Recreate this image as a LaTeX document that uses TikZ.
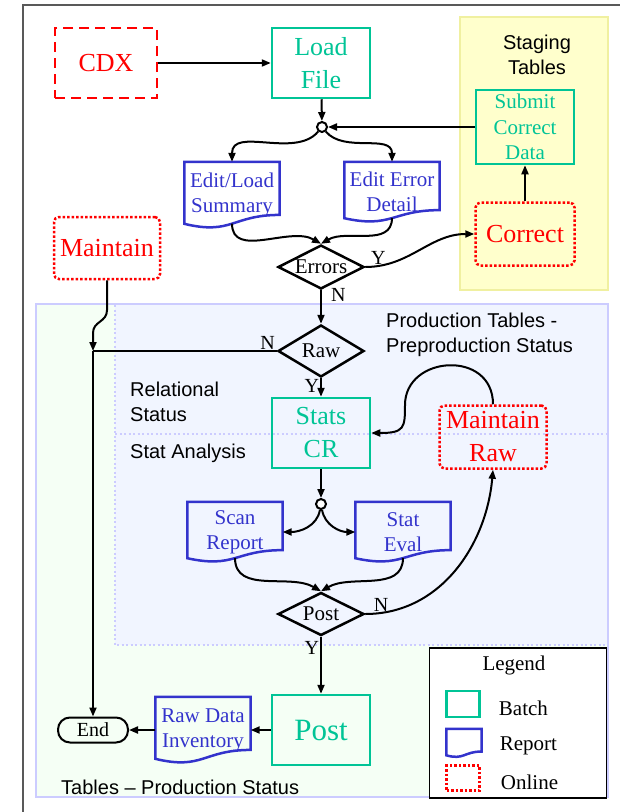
\documentclass[tikz,border=0pt]{standalone}
\usepackage{fontspec}
\setmainfont{Liberation Serif}
\setsansfont{Liberation Sans}
\usepackage{tikz}
\usetikzlibrary{positioning}
\usetikzlibrary{shapes.geometric}
\usetikzlibrary{calc}
\usetikzlibrary{arrows.meta}

\definecolor{batchgreen}{RGB}{0,196,150}
\definecolor{reportblue}{RGB}{51,51,204}
\definecolor{stagefill}{RGB}{255,255,204}
\definecolor{stageline}{RGB}{240,240,160}
\definecolor{prodfill}{RGB}{245,255,245}
\definecolor{preprodfill}{RGB}{241,245,255}
\definecolor{regionline}{RGB}{204,204,255}

\tikzset{
	batch/.style={draw=batchgreen, text=batchgreen, line width=2.5pt, minimum width=98pt, minimum height=70pt, align=center, inner sep=0pt, font=\fontsize{26}{33}\selectfont},
	online/.style={draw=red, text=red, line width=2.5pt, dash pattern=on 2.5pt off 2pt, rounded corners=5pt, align=center, inner sep=0pt, font=\fontsize{26}{33}\selectfont},
	external/.style={draw=red, text=red, line width=2.5pt, dash pattern=on 10pt off 6pt, align=center, inner sep=0pt, font=\fontsize{26}{33}\selectfont},
	report/.style={text=reportblue, minimum width=95pt, align=center, inner sep=0pt, font=\fontsize{21}{25}\selectfont},
	reportline/.style={draw=reportblue, line width=2.5pt},
	decision/.style={diamond, draw, line width=2.5pt, aspect=2, inner sep=-2pt, minimum width=86pt, font=\fontsize{21}{24}\selectfont},
	junction/.style={circle, draw, fill=white, line width=2pt, inner sep=0pt, minimum size=10pt},
	flow/.style={line width=2pt, -{Triangle[length=9pt,width=7pt]}},
	yn/.style={font=\fontsize{20}{22}\selectfont, inner sep=1pt},
	region/.style={font=\sffamily\fontsize{20}{25}\selectfont, align=left, inner sep=0pt},
	legendtext/.style={font=\fontsize{21}{25}\selectfont, inner sep=0pt},
}

\begin{document}
\begin{tikzpicture}[x=1pt, y=-1pt]
	\useasboundingbox (0,0) rectangle (620,812);
	
	% table areas
	\fill[stagefill, draw=stageline, line width=2pt] (460,17) rectangle (608,290);
	\filldraw[fill=prodfill, draw=regionline, line width=2.5pt] (36,304) rectangle (608,797);
	\fill[preprodfill] (115,305) rectangle (607,645);
	\draw[regionline, line width=2pt, dash pattern=on 2pt off 2.5pt] (115,305) -- (115,645) -- (607,645);
	\draw[regionline, line width=2pt, dash pattern=on 2pt off 2.5pt] (115,434) -- (607,434);
	\draw[black!65, line width=1.5pt] (23,812) -- (23,5) -- (620,5);
	
	\node at (537,55) [region, align=center] (staginglbl) {Staging\\Tables};
	\node at (386,335) [region, anchor=west] (preprodlbl) {Production Tables -\\Preproduction Status};
	\node at (130,402) [region, anchor=west] (relatlbl) {Relational\\Status};
	\node at (130,453) [region, anchor=west] (statlbl) {Stat Analysis};
	\node at (61,787) [region, anchor=west] (prodlbl) {Tables – Production Status};
	
	% loading
	\node at (106,63) [external, minimum width=102pt, minimum height=70pt] (cdx) {CDX};
	\node at (321,63) [batch] (load) {Load\\File};
	\node at (322,127) [junction] (fork1) {};
	\node at (525,127) [batch, minimum height=74pt, font=\fontsize{21}{25.5}\selectfont] (submit) {Submit\\Correct\\Data};
	\node at (525,234) [online, minimum width=99pt, minimum height=63pt] (correct) {Correct};
	\node at (232,195) [report, minimum height=66pt] (elsum) {Edit/Load\\Summary};
	\node at (392,192) [report, minimum height=60pt] (errdet) {Edit Error\\Detail};
	\node at (321,267) [decision, minimum height=44pt] (errors) {Errors};
	\node at (107,248) [online, minimum width=106pt, minimum height=62pt] (maintain) {Maintain};
	
	% production
	\node at (321,351) [decision, minimum height=52pt] (raw) {Raw};
	\node at (321,433) [batch] (stats) {Stats\\CR};
	\node at (493,437) [online, minimum width=107pt, minimum height=63pt] (mraw) {Maintain\\Raw};
	\node at (321,504) [junction] (fork2) {};
	\node at (235,532) [report, minimum height=60pt] (scan) {Scan\\Report};
	\node at (403,532) [report, minimum height=60pt] (steval) {Stat\\Eval};
	\node at (321,614) [decision, minimum height=43pt] (postq) {Post};
	\node at (321,730) [batch, font=\fontsize{31}{36}\selectfont] (post) {Post};
	\node at (203,730) [report, minimum height=66pt] (rawinv) {Raw Data\\Inventory};
	\node at (93,730) [draw, line width=2pt, rounded corners=12pt, minimum width=70pt, minimum height=25pt, inner sep=0pt, font=\fontsize{20}{22}\selectfont] (end) {End};
	\coordinate (merge) at (93,351);
	
	% legend
	\node at (518,723) [draw, line width=1.5pt, fill=white, minimum width=177pt, minimum height=150pt] (legend) {};
	\node at (514,665) [legendtext] (legtitle) {Legend};
	\node at (463,704) [draw=batchgreen, line width=2.5pt, minimum width=33pt, minimum height=26pt] (legbatch) {};
	\node at (464,743) [report, minimum width=35pt, minimum height=28pt] (legreport) {};
	\node at (463,778) [online, rounded corners=0pt, minimum width=33pt, minimum height=25pt] (legonline) {};
	\node [legendtext, right=18pt of legbatch, yshift=-4pt] (legbatchtxt) {Batch};
	\node [legendtext, right=18pt of legreport, yshift=-3pt] (legreporttxt) {Report};
	\node [legendtext, right=20pt of legonline, yshift=-4pt] (legonlinetxt) {Online};
	
	% report outlines with the wavy bottom
	\foreach \r in {elsum,errdet,scan,steval,rawinv,legreport}
	\draw[reportline] (\r.north west) -- (\r.north east) -- ($(\r.north east)!.8!(\r.south east)$)
		.. controls ($(\r.north)!.8!(\r.south)$) and ($(\r.north)!1.1075!(\r.south)$) .. ($(\r.north west)!.934!(\r.south west)$) -- cycle;
	
	% connectors
	\draw[flow] (cdx.east) -- (load.west);
	\draw[flow] (load) -- (fork1);
	\draw[flow] (submit.west) -- (fork1);
	\draw[flow] (fork1) to[out=-130,in=90] (elsum.north);
	\draw[flow] (fork1) to[out=-50,in=90] (errdet.north);
	\draw[flow] ($(elsum.north)!.93!(elsum.south)$) to[out=-90,in=150] (errors.north);
	\draw[flow] ($(errdet.north)!.93!(errdet.south)$) to[out=-90,in=30] (errors.north);
	\draw[flow] (errors.east) to[out=0,in=180] node[yn, pos=.03, anchor=south west] {Y} (correct.west);
	\draw[flow] (correct.north) -- (submit.south);
	\draw[flow] (errors.south) -- node[yn, pos=.15, anchor=west, xshift=8pt] {N} (raw.north);
	\draw[line width=2pt] (raw.west) -- node[yn, pos=0, anchor=south east] {N} (merge);
	\draw[flow] (maintain.south) -- ++(0,30) .. controls +(0,12) and +(0,-12) .. ($(merge)+(0,-18)$) -- (merge);
	\draw[flow] (merge) -- (end.north);
	\draw[flow] (raw.south) -- node[yn, pos=.4, anchor=east] {Y} (stats.north);
	\draw[flow] (mraw.north) .. controls +(0,-55) and +(0,-50) .. (405,405) .. controls +(0,23) and +(33,0) .. (stats.east);
	\draw[flow] (stats) -- (fork2);
	\draw[flow] (fork2) to[out=-100,in=0] (scan.east);
	\draw[flow] (fork2) to[out=-80,in=180] (steval.west);
	\draw[flow] ($(scan.north)!.93!(scan.south)$) to[out=-90,in=150] (postq.north);
	\draw[flow] ($(steval.north)!.93!(steval.south)$) to[out=-90,in=30] (postq.north);
	\draw[flow] (postq.east) to[out=0,in=-95] node[yn, pos=.03, anchor=south west] {N} (mraw.south);
	\draw[flow] (postq.south) -- node[yn, pos=.2, anchor=east] {Y} (post.north);
	\draw[flow] (post.west) -- (rawinv.east);
	\draw[flow] (rawinv.west) -- (end.east);
	
\end{tikzpicture}
\end{document}
